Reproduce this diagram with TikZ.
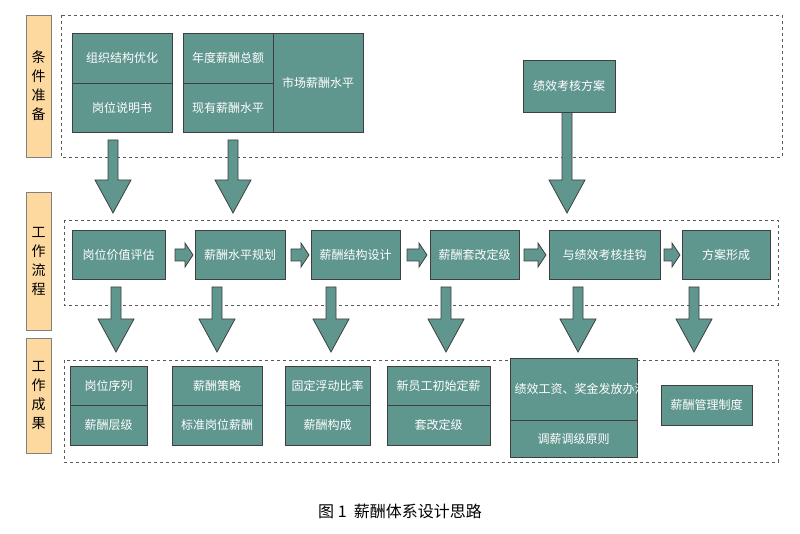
\documentclass[tikz,border=0pt]{standalone}
\usepackage{fontspec}
\setmainfont{Noto Sans CJK SC}
\usetikzlibrary{positioning}
\definecolor{teal1}{HTML}{5F968E}
\definecolor{edge1}{HTML}{3F3F3F}
\definecolor{side1}{HTML}{FDD9A0}
\tikzset{
  box/.style={draw=edge1,thick,fill=teal1,text=white,align=center,inner sep=1pt,
    font=\fontsize{12}{15}\selectfont},
  side/.style={draw=gray,fill=side1,align=center,font=\fontsize{14}{19}\selectfont},
  frame/.style={draw=gray!70!black,dashed,thick},
  fat/.style={draw=edge1,fill=teal1,thick}
}
% box from corner (x1,y1) to (x2,y2) in pixels, y downward
\newcommand{\pbox}[6][]{\node[box,#1,minimum width=#4pt-#2pt,minimum height=#5pt-#3pt]
  at ({(#2+#4)/2*1pt},{-(#3+#5)/2*1pt}) {#6};}
% big arrow down: x, top, bottom
\newcommand{\downarrowfat}[3]{\draw[fat] ({(#1-5)*1pt},-#2pt) -- ({(#1+5)*1pt},-#2pt)
  -- ({(#1+5)*1pt},{-(#3-33)*1pt}) -- ({(#1+18)*1pt},{-(#3-33)*1pt}) -- (#1pt,-#3pt)
  -- ({(#1-18)*1pt},{-(#3-33)*1pt}) -- ({(#1-5)*1pt},{-(#3-33)*1pt}) -- cycle;}
% small arrow right: x1, x2, y
\newcommand{\rightarrowfat}[3]{\draw[fat] (#1pt,{-(#3-6)*1pt}) -- ({(#2-8)*1pt},{-(#3-6)*1pt})
  -- ({(#2-8)*1pt},{-(#3-12)*1pt}) -- (#2pt,-#3pt) -- ({(#2-8)*1pt},{-(#3+12)*1pt})
  -- ({(#2-8)*1pt},{-(#3+6)*1pt}) -- (#1pt,{-(#3+6)*1pt}) -- cycle;}
\begin{document}
\begin{tikzpicture}[x=1pt,y=1pt]
  \useasboundingbox (0,0) rectangle (800,-534);

  % Side labels
  \node[side,minimum width=25pt,minimum height=142pt] (s1) at (38.5,-86) {条\\件\\准\\备};
  \node[side,minimum width=25pt,minimum height=138pt] (s2) at (38.5,-261) {工\\作\\流\\程};
  \node[side,minimum width=25pt,minimum height=115pt] (s3) at (38.5,-395.5) {工\\作\\成\\果};

  % Dashed frames
  \draw[frame] (61,-15) rectangle (782,-157);
  \draw[frame] (64,-220) rectangle (778,-305);
  \draw[frame] (64,-360) rectangle (778,-462);

  % Arrows
  \downarrowfat{113}{140}{213}
  \downarrowfat{233}{140}{213}
  \downarrowfat{567}{112}{213}
  \foreach \x in {116,217,331,446,578,694}{
    \downarrowfat{\x}{287}{352}
  }
  \rightarrowfat{175}{193}{255}
  \rightarrowfat{291}{309}{255}
  \rightarrowfat{407}{427}{255}
  \rightarrowfat{524}{546}{255}
  \rightarrowfat{664}{680}{255}

  % Conditions
  \pbox{72}{33}{172}{83}{组织结构优化}
  \pbox{72}{83}{172}{132}{岗位说明书}
  \pbox{183}{33}{273}{83}{年度薪酬总额}
  \pbox{183}{83}{273}{132}{现有薪酬水平}
  \pbox{273}{33}{363}{132}{市场薪酬水平}
  \pbox{523}{60}{615}{112}{绩效考核方案}

  % Workflow
  \pbox{72}{230}{165}{279}{岗位价值评估}
  \pbox{195}{230}{285}{279}{薪酬水平规划}
  \pbox{311}{230}{400}{279}{薪酬结构设计}
  \pbox{430}{230}{519}{279}{薪酬套改定级}
  \pbox{549}{230}{660}{279}{与绩效考核挂钩}
  \pbox{682}{230}{770}{279}{方案形成}

  % Results
  \pbox{70}{366}{147}{405}{岗位序列}
  \pbox{70}{405}{147}{445}{薪酬层级}
  \pbox{172}{366}{262}{405}{薪酬策略}
  \pbox{172}{405}{262}{445}{标准岗位薪酬}
  \pbox{285}{366}{370}{405}{固定浮动比率}
  \pbox{285}{405}{370}{445}{薪酬构成}
  \pbox{387}{366}{490}{405}{新员工初始定薪}
  \pbox{387}{405}{490}{445}{套改定级}
  \pbox[text width=118pt]{510}{358}{637}{420}{绩效工资、奖金发放办法}
  \pbox{510}{420}{637}{457}{调薪调级原则}
  \pbox{661}{385}{752}{425}{薪酬管理制度}

  % Title
  \node[font=\fontsize{16}{18}\selectfont] (title) at (400,-511) {图 1\ \ 薪酬体系设计思路};
\end{tikzpicture}
\end{document}
